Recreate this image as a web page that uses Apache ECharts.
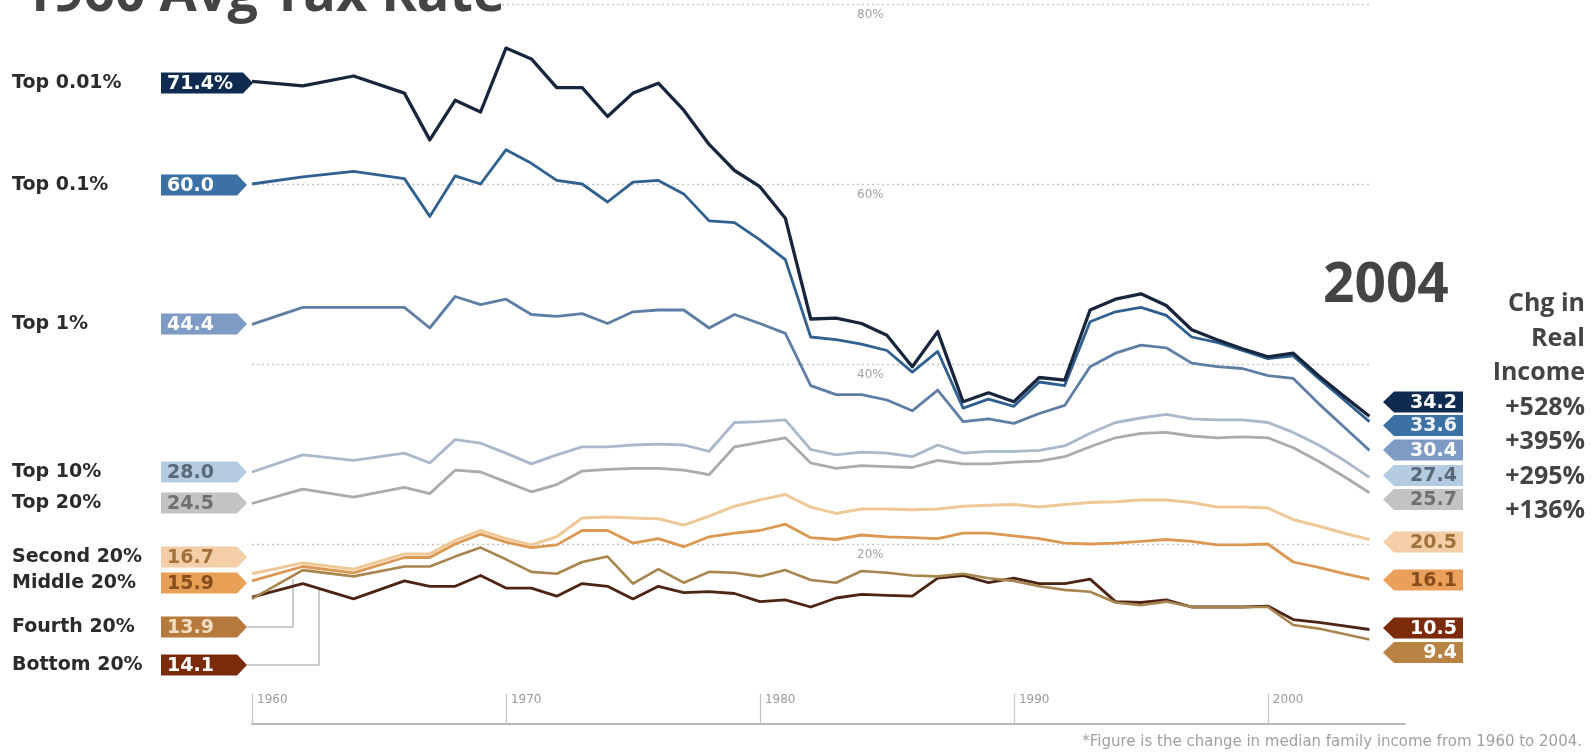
<!DOCTYPE html>
<html><head><meta charset="utf-8">
<script src="https://cdn.jsdelivr.net/npm/echarts/dist/echarts.min.js"></script>
<style>html,body{margin:0;padding:0;background:#fff}#c{width:1594px;height:752px}</style>
</head><body><div id="c"></div>
<script>
// ---------- DATA ----------
const years = [1960,1962,1964,1966,1967,1968,1969,1970,1971,1972,1973,1974,1975,1976,1977,1978,1979,1980,1981,1982,1983,1984,1985,1986,1987,1988,1989,1990,1991,1992,1993,1994,1995,1996,1997,1998,1999,2000,2001,2002,2003,2004];
const top001 = [71.4,70.9,72.0,70.1,64.9,69.3,68.0,75.1,73.9,70.7,70.7,67.5,70.1,71.2,68.2,64.4,61.5,59.7,56.2,45.0,45.1,44.5,43.2,39.7,43.6,35.8,36.8,35.8,38.5,38.2,46.0,47.2,47.8,46.5,43.8,42.7,41.7,40.8,41.2,38.7,36.4,34.2];
const top01  = [60.0,60.8,61.4,60.6,56.4,60.9,60.0,63.8,62.3,60.4,60.0,58.0,60.2,60.4,58.9,55.9,55.7,53.8,51.6,43.0,42.7,42.2,41.5,39.1,41.4,35.1,36.1,35.3,38.0,37.6,44.7,45.8,46.3,45.4,43.0,42.4,41.5,40.6,40.9,38.4,36.0,33.6];
const top1   = [44.4,46.3,46.3,46.3,44.0,47.5,46.6,47.2,45.5,45.3,45.6,44.5,45.8,46.0,46.0,44.0,45.5,44.5,43.4,37.6,36.6,36.6,36.0,34.8,37.1,33.6,33.9,33.4,34.5,35.4,39.7,41.2,42.1,41.8,40.1,39.7,39.5,38.7,38.4,35.6,33.0,30.4];
const top10  = [28.0,29.9,29.3,30.1,29.0,31.6,31.2,30.1,28.9,29.9,30.8,30.8,31.0,31.1,31.0,30.3,33.5,33.6,33.8,30.5,29.9,30.2,30.1,29.7,31.0,30.1,30.3,30.3,30.4,30.9,32.3,33.5,34.0,34.4,33.9,33.8,33.8,33.5,32.4,31.0,29.3,27.4];
const top20  = [24.5,26.1,25.2,26.3,25.6,28.2,28.0,26.9,25.8,26.6,28.1,28.3,28.4,28.4,28.2,27.7,30.8,31.3,31.8,29.0,28.4,28.7,28.6,28.5,29.3,28.9,28.9,29.1,29.2,29.7,30.8,31.8,32.3,32.4,32.0,31.8,31.9,31.8,30.7,29.2,27.5,25.7];
const second20 = [16.7,17.9,17.2,18.9,18.9,20.4,21.5,20.6,19.9,20.8,22.9,23.0,22.9,22.8,22.1,23.1,24.2,24.9,25.5,24.1,23.4,23.9,23.9,23.8,23.9,24.2,24.3,24.4,24.1,24.4,24.6,24.7,24.9,24.9,24.6,24.1,24.1,24.0,22.7,22.0,21.2,20.5];
const middle20 = [15.9,17.5,16.8,18.5,18.5,20.0,21.1,20.2,19.6,19.9,21.5,21.5,20.1,20.6,19.7,20.8,21.2,21.5,22.2,20.7,20.5,21.0,20.8,20.7,20.6,21.2,21.2,20.9,20.6,20.1,20.0,20.1,20.3,20.5,20.3,19.9,19.9,20.0,18.0,17.4,16.7,16.1];
const fourth20 = [13.9,17.1,16.4,17.5,17.5,18.6,19.6,18.3,16.9,16.7,18.0,18.6,15.6,17.2,15.7,16.9,16.8,16.4,17.1,16.0,15.7,17.0,16.8,16.5,16.4,16.7,16.2,15.9,15.3,14.9,14.7,13.5,13.2,13.6,13.0,13.0,13.0,13.0,11.0,10.6,10.0,9.4];
const bottom20 = [14.1,15.6,13.9,15.9,15.3,15.3,16.5,15.1,15.1,14.2,15.6,15.3,13.9,15.3,14.6,14.7,14.5,13.6,13.8,13.0,14.0,14.4,14.3,14.2,16.2,16.5,15.7,16.2,15.6,15.6,16.1,13.6,13.5,13.8,13.0,13.0,13.0,13.1,11.6,11.3,10.9,10.5];

const groupNames = ['Top 0.01%','Top 0.1%','Top 1%','Top 10%','Top 20%','Second 20%','Middle 20%','Fourth 20%','Bottom 20%'];
const startLabels = ['71.4%','60.0','44.4','28.0','24.5','16.7','15.9','13.9','14.1'];
const endLabels = ['34.2','33.6','30.4','27.4','25.7','20.5','16.1','10.5','9.4'];
const incomeHeader = ['Chg in','Real','Income'];
const incomeChange = ['+528%','+395%','+295%','+136%'];
const gridValues = [20,40,60,80];
const titleText = '1960 Avg Tax Rate';
const endYearText = '2004';
const footnote = '*Figure is the change in median family income from 1960 to 2004.';

// ---------- STYLE / LAYOUT ----------
const seriesList = [
  {name:'Bottom 20%', d:bottom20, c:'#4d2414', w:2.8},
  {name:'Fourth 20%', d:fourth20, c:'#a8844e', w:2.6},
  {name:'Middle 20%', d:middle20, c:'#dc9852', w:2.8},
  {name:'Second 20%', d:second20, c:'#f0c898', w:3.0},
  {name:'Top 20%', d:top20, c:'#ababab', w:2.8},
  {name:'Top 10%', d:top10, c:'#a9b9ca', w:2.8},
  {name:'Top 1%', d:top1, c:'#5f7ea6', w:2.8},
  {name:'Top 0.1%', d:top01, c:'#2f6090', w:2.8},
  {name:'Top 0.01%', d:top001, c:'#17263d', w:3.3}
];
const leftY = [83,185,324,472,503,557,583,627,665];
const leftFill = ['#0f2c50','#3c71a5','#7d9bc4','#b5cbe1','#c3c3c3','#f4cea6','#e8a057','#b67b3c','#7b2a0a'];
const leftText = ['#ffffff','#ffffff','#ffffff','#5a6878','#707070','#a2723e','#874d1c','#f2dcc4','#ffffff'];
const rightY = [402,425.5,450,475.5,499.5,542,580,628,652.5];
const rightFill = ['#0f2c50','#3c71a5','#7d9bc4','#b5cbe1','#c3c3c3','#f4cea6','#eaa05a','#7b2a0a','#b98443'];
const rightText = ['#ffffff','#eef3f9','#ffffff','#5a6878','#707070','#a2723e','#874d1c','#ffffff','#ffffff'];

const chart = echarts.init(document.getElementById('c'), null, {renderer:'canvas'});

const series = seriesList.map((s, i) => ({
  name: s.name, type: 'line', z: 3 + i,
  data: years.map((y, k) => [y, s.d[k]]),
  symbol: 'none', smooth: false, silent: true,
  lineStyle: {color: s.c, width: s.w, join: 'round'}
}));
series.unshift({
  name: 'grid', type: 'line', z: 1, data: [], silent: true, symbol: 'none',
  markLine: {
    silent: true, symbol: ['none','none'], label: {show: false},
    lineStyle: {color: '#c6c6c6', width: 1.4, type: [2, 3]},
    data: gridValues.map(v => [{coord: [years[0], v]}, {coord: [years[years.length-1], v]}])
  }
});

const graphic = [];
function txt(text, x, y, font, fill, align, z) {
  graphic.push({type:'text', z: z || 50, silent: true,
    style:{text, x, y, font, fill, align: align||'left', verticalAlign:'middle', textAlign: align||'left', textVerticalAlign:'middle'}});
}
// mask under title
graphic.push({type:'rect', z: 40, silent:true, shape:{x:240, y:0, width:260, height:12}, style:{fill:'#ffffff'}});
txt(titleText, 22, -4, 'bold 54px "Open Sans"', '#444444', 'left', 60);
txt(endYearText, 1323, 286, 'bold 55px "Open Sans"', '#444444', 'left', 60);
const rightLines = incomeHeader.concat(incomeChange);
rightLines.forEach((t, i) => txt(t, 1585, 304 + i * 34.5, 'bold 25px "Open Sans"', '#444444', 'right', 60));

// left labels + tags
groupNames.forEach((n, i) => {
  const y = leftY[i];
  txt(n, 12, y, 'bold 19px "DejaVu Sans"', '#2b2b2b', 'left');
  const x0 = 161, x1 = i === 0 ? 243 : 237, tip = i === 0 ? 253 : 247, h = 21;
  graphic.push({type:'polygon', z: 45, silent:true,
    shape:{points:[[x0,y-h/2],[x1,y-h/2],[tip,y],[x1,y+h/2],[x0,y+h/2]]},
    style:{fill:leftFill[i]}});
  txt(startLabels[i], 167, y + 1, 'bold 19px "DejaVu Sans"', leftText[i], 'left');
});
// connectors for Fourth and Bottom
graphic.push({type:'polyline', z: 2, silent:true, shape:{points:[[247,627],[293,627],[293,579]]}, style:{stroke:'#bdbdbd', lineWidth:1.6, fill:null}});
graphic.push({type:'polyline', z: 2, silent:true, shape:{points:[[247,665],[319,665],[319,588]]}, style:{stroke:'#bdbdbd', lineWidth:1.6, fill:null}});

// right tags
endLabels.forEach((t, i) => {
  const y = rightY[i];
  const tip = 1383, x1 = 1394, x2 = 1463, h = 21;
  graphic.push({type:'polygon', z: 45, silent:true,
    shape:{points:[[tip,y],[x1,y-h/2],[x2,y-h/2],[x2,y+h/2],[x1,y+h/2]]},
    style:{fill:rightFill[i]}});
  txt(t, 1457, y + 1, 'bold 19px "DejaVu Sans"', rightText[i], 'right');
});
txt(footnote, 1582, 742, '15px "DejaVu Sans"', '#a0a0a0', 'right');

chart.setOption({
  animation: false,
  backgroundColor: '#ffffff',
  grid: {left: 252, right: 189, top: 4, bottom: 28, containLabel: false},
  xAxis: {
    type: 'value', min: 1960, max: 2005.4, interval: 10,
    axisLine: {show: true, lineStyle: {color: '#b8b8b8', width: 2}},
    axisTick: {show: true, inside: true, length: 30, lineStyle: {color: '#c4c4c4', width: 1.2}},
    axisLabel: {inside: true, margin: 24, align: 'left', verticalAlign: 'middle', padding: [0,0,0,5],
      color: '#9a9a9a', fontSize: 12, fontFamily: 'DejaVu Sans', showMaxLabel: false,
      formatter: v => String(v)},
    splitLine: {show: false}
  },
  yAxis: {
    type: 'value', min: 0, max: 80, interval: 20,
    axisLine: {show: false}, axisTick: {show: false}, splitLine: {show: false},
    axisLabel: {inside: true, margin: 605, align: 'left', verticalAlign: 'top', lineHeight: 22,
      color: '#a3a3a3', fontSize: 12, fontFamily: 'DejaVu Sans',
      formatter: v => v === 0 ? '' : v + '%'}
  },
  series: series,
  graphic: graphic
});
</script>
</body></html>
